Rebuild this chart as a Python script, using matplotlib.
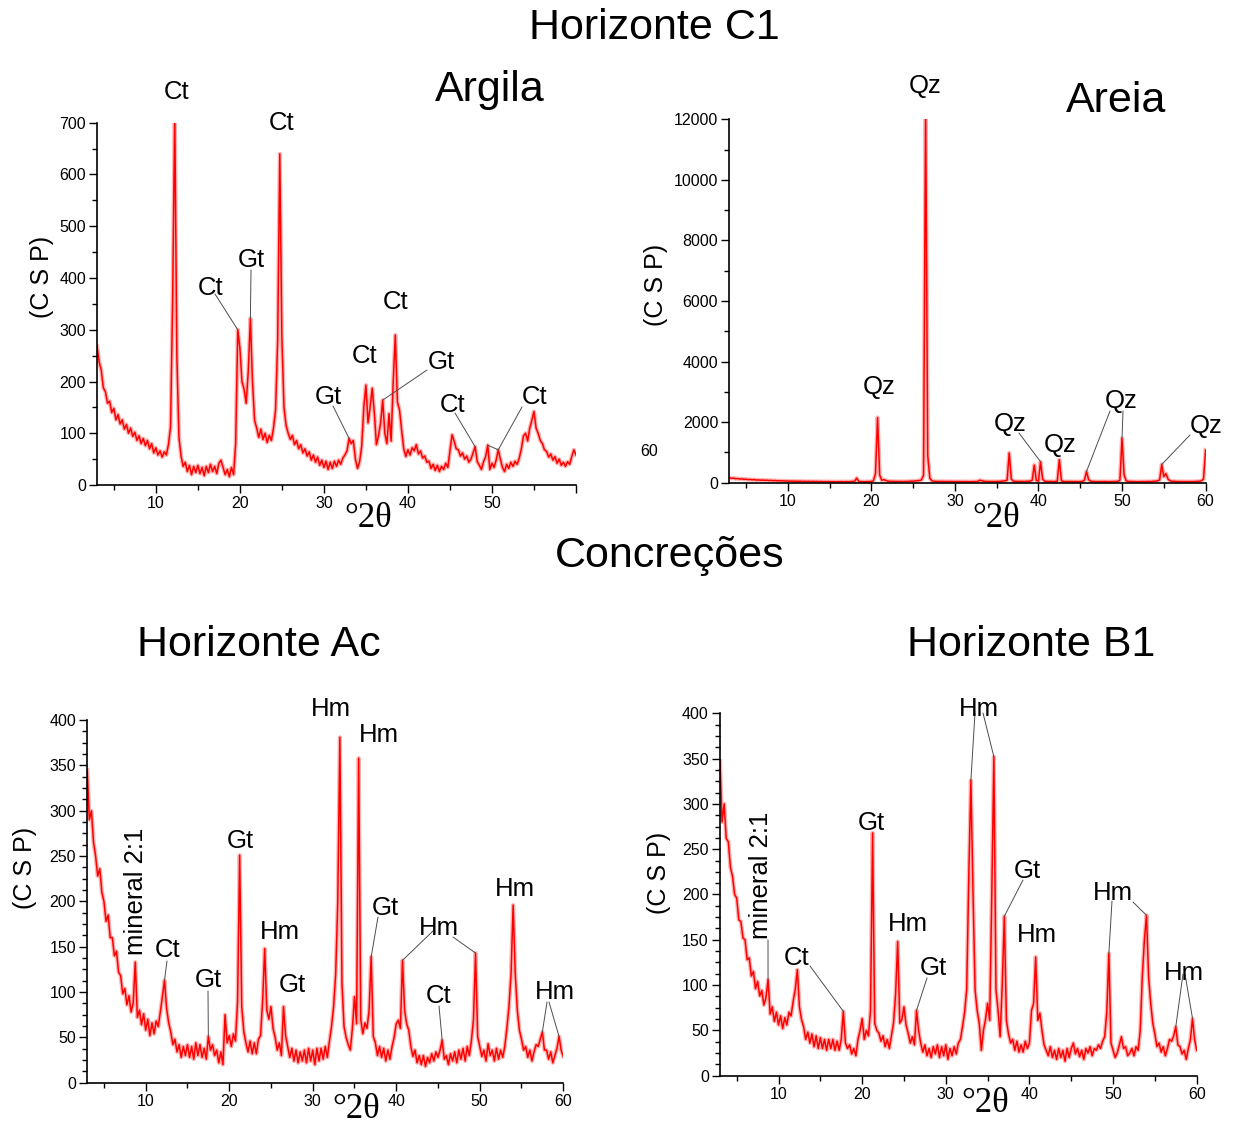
import numpy as np
import matplotlib
matplotlib.use("Agg")
import matplotlib.pyplot as plt
from matplotlib.ticker import MultipleLocator

plt.rcParams['font.family'] = ['Liberation Sans', 'DejaVu Sans']

# scan grid, degrees 2-theta (step 0.25)
two_theta = np.arange(3.0, 60.001, 0.25)

# Horizonte C1 - Argila (counts)
argila = [
    268, 238, 222, 188, 180, 158, 162, 140,
    148, 126, 136, 118, 126, 108, 117, 100,
    110, 94, 102, 86, 95, 80, 90, 76,
    86, 70, 80, 62, 72, 58, 66, 54,
    64, 58, 78, 112, 360, 720, 250, 92,
    56, 36, 44, 26, 38, 20, 36, 24,
    38, 22, 34, 18, 36, 24, 40, 26,
    36, 22, 42, 48, 34, 20, 30, 16,
    34, 20, 80, 300, 265, 200, 185, 158,
    220, 322, 200, 125, 110, 92, 108, 88,
    100, 82, 96, 86, 110, 145, 280, 640,
    285, 150, 115, 100, 88, 96, 78, 86,
    70, 78, 62, 70, 56, 64, 48, 58,
    44, 54, 38, 48, 34, 46, 30, 44,
    32, 46, 36, 48, 40, 52, 58, 66,
    90, 80, 86, 50, 32, 45, 75, 150,
    193, 120, 150, 187, 140, 78, 95, 120,
    164, 100, 80, 138, 85, 200, 290, 160,
    145, 106, 70, 55, 68, 58, 72, 66,
    78, 60, 66, 52, 56, 44, 46, 32,
    40, 28, 38, 26, 36, 30, 42, 34,
    65, 97, 85, 70, 68, 56, 62, 50,
    56, 44, 50, 62, 74, 45, 38, 30,
    45, 55, 77, 30, 42, 34, 48, 68,
    50, 34, 26, 40, 32, 44, 36, 46,
    40, 52, 70, 95, 100, 85, 110, 125,
    142, 110, 100, 86, 80, 68, 65, 54,
    60, 48, 55, 42, 50, 38, 44, 36,
    45, 40, 55, 68, 58,
]

# Horizonte C1 - Areia (counts)
areia = [
    160, 140, 150, 130, 135, 120, 125, 110,
    115, 100, 105, 95, 100, 85, 90, 80,
    85, 75, 80, 70, 75, 65, 70, 60,
    65, 55, 60, 52, 56, 48, 52, 45,
    50, 42, 48, 40, 45, 38, 44, 36,
    42, 35, 40, 34, 38, 32, 38, 30,
    36, 30, 35, 28, 34, 30, 36, 28,
    35, 30, 34, 40, 36, 150, 40, 32,
    35, 30, 36, 32, 40, 60, 300, 2150,
    250, 80, 100, 70, 50, 40, 45, 38,
    42, 36, 40, 35, 40, 38, 45, 50,
    48, 55, 60, 70, 90, 250, 12500, 900,
    150, 60, 45, 40, 42, 38, 40, 36,
    40, 35, 38, 34, 38, 33, 36, 32,
    36, 32, 35, 30, 36, 32, 38, 40,
    80, 60, 45, 38, 40, 36, 38, 35,
    40, 38, 45, 50, 60, 80, 980, 120,
    50, 42, 40, 38, 42, 38, 40, 45,
    50, 80, 580, 70, 50, 690, 120, 45,
    40, 38, 42, 36, 40, 42, 760, 60,
    40, 36, 38, 35, 38, 34, 36, 33,
    36, 40, 80, 370, 100, 45, 38, 36,
    34, 36, 33, 35, 38, 34, 36, 35,
    36, 38, 45, 80, 1470, 250, 60, 40,
    38, 35, 36, 33, 35, 34, 36, 35,
    38, 40, 36, 45, 50, 60, 90, 600,
    200, 300, 120, 60, 45, 40, 38, 36,
    35, 36, 34, 35, 33, 36, 34, 38,
    40, 45, 60, 120, 1080,
]

# Concrecoes - Horizonte Ac (counts)
horiz_ac = [
    345, 290, 300, 265, 250, 228, 236, 210,
    200, 178, 185, 160, 160, 140, 145, 122,
    118, 98, 104, 86, 96, 78, 88, 133,
    72, 80, 64, 76, 58, 70, 52, 66,
    54, 68, 62, 78, 95, 113, 82, 66,
    56, 42, 48, 34, 42, 28, 40, 30,
    42, 28, 40, 26, 44, 30, 42, 28,
    38, 26, 51, 36, 42, 30, 36, 22,
    34, 20, 75, 44, 52, 40, 54, 46,
    90, 251, 84, 56, 44, 34, 46, 32,
    44, 32, 48, 52, 90, 148, 80, 70,
    84, 60, 50, 36, 44, 30, 84, 52,
    40, 28, 38, 24, 36, 22, 34, 24,
    36, 22, 38, 24, 36, 20, 38, 24,
    38, 26, 40, 28, 46, 62, 84, 120,
    200, 381, 110, 62, 50, 42, 36, 60,
    95, 65, 358, 70, 54, 66, 60, 80,
    139, 51, 44, 30, 40, 28, 38, 24,
    36, 26, 40, 50, 65, 69, 60, 135,
    80, 65, 58, 40, 29, 36, 22, 30,
    20, 30, 18, 28, 22, 32, 24, 34,
    28, 36, 47, 26, 30, 20, 32, 24,
    34, 22, 36, 26, 38, 24, 40, 30,
    46, 70, 143, 51, 40, 29, 36, 24,
    43, 30, 36, 24, 38, 26, 36, 28,
    40, 60, 84, 120, 196, 121, 80, 58,
    48, 36, 40, 28, 36, 24, 34, 42,
    40, 48, 56, 36, 36, 26, 34, 22,
    30, 38, 51, 36, 29,
]

# Concrecoes - Horizonte B1 (counts)
horiz_b1 = [
    347, 280, 300, 262, 258, 230, 220, 200,
    196, 172, 170, 152, 150, 128, 130, 110,
    115, 96, 104, 88, 94, 78, 86, 106,
    68, 76, 60, 70, 56, 66, 52, 64,
    56, 70, 66, 82, 95, 117, 76, 62,
    54, 40, 48, 36, 46, 32, 44, 30,
    42, 30, 40, 28, 40, 30, 40, 28,
    38, 28, 40, 71, 36, 30, 34, 24,
    30, 22, 40, 50, 63, 40, 50, 44,
    72, 268, 58, 50, 47, 38, 44, 32,
    40, 30, 44, 58, 90, 148, 58, 62,
    76, 56, 47, 36, 43, 34, 72, 50,
    36, 26, 34, 22, 30, 20, 32, 24,
    34, 20, 32, 22, 34, 18, 30, 22,
    32, 24, 36, 40, 54, 70, 95, 220,
    326, 205, 95, 72, 58, 28, 50, 62,
    80, 61, 200, 352, 95, 72, 43, 100,
    176, 61, 46, 36, 40, 28, 38, 26,
    34, 26, 38, 30, 36, 72, 80, 131,
    61, 69, 50, 34, 28, 22, 32, 20,
    28, 18, 30, 20, 28, 16, 30, 20,
    30, 36, 24, 30, 21, 28, 18, 30,
    25, 32, 22, 30, 28, 34, 30, 38,
    43, 70, 135, 36, 28, 20, 25, 34,
    43, 30, 32, 22, 25, 30, 22, 32,
    28, 50, 110, 150, 177, 109, 80, 58,
    46, 32, 36, 26, 32, 22, 30, 40,
    38, 44, 54, 34, 32, 24, 28, 18,
    30, 40, 63, 40, 28,
]

H = 1124  # figure height in pixels (dpi 100)


def top(ax_y, x0, w=0.3):
    y = np.asarray(ax_y, dtype=float)
    m = np.abs(two_theta - x0) <= w
    i = np.argmax(np.where(m, y, -np.inf))
    return two_theta[i], y[i]


def label(fig, s, px, py, size=18.5, **kw):
    fig.text(px / 1236, 1 - py / H, s, fontsize=size, ha='center', va='center', **kw)


def leader(ax, y, x0, px, py):
    ax.annotate('', xy=top(y, x0), xycoords='data',
                xytext=(px, H - py), textcoords='figure pixels',
                arrowprops=dict(arrowstyle='-', color='0.3', lw=0.7,
                                shrinkA=0, shrinkB=0),
                annotation_clip=False)


def setup(ax, ymax, ymajor, yminor, show60=True):
    # soft halo under the trace, then the trace itself
    ax.plot(two_theta, y_of[ax], color='#ff0000', lw=3.0, alpha=0.3)
    ax.plot(two_theta, y_of[ax], color='#ff0000', lw=1.1)
    ax.set_xlim(3, 60)
    ax.set_ylim(0, ymax)
    for s in ['top', 'right']:
        ax.spines[s].set_visible(False)
    for s in ['left', 'bottom']:
        ax.spines[s].set_linewidth(1.2)
    ax.set_xticks(range(10, 61, 10))
    ax.set_xticklabels([str(v) for v in range(10, 51, 10)] + (['60'] if show60 else ['']))
    ax.xaxis.set_minor_locator(MultipleLocator(5))
    ax.yaxis.set_major_locator(MultipleLocator(ymajor))
    ax.yaxis.set_minor_locator(MultipleLocator(yminor))
    ax.tick_params(which='both', direction='out', width=1, labelsize=11.5, pad=2)
    ax.tick_params(which='major', length=6)
    ax.tick_params(which='minor', length=3.5)


fig = plt.figure(figsize=(12.36, 11.24), dpi=100)
ax1 = fig.add_axes([0.0785, 0.5685, 0.3875, 0.3223])
ax2 = fig.add_axes([0.5900, 0.5706, 0.3854, 0.3233])
ax3 = fig.add_axes([0.0706, 0.0367, 0.3851, 0.3227])
ax4 = fig.add_axes([0.5825, 0.0430, 0.3857, 0.3224])
y_of = {ax1: argila, ax2: areia, ax3: horiz_ac, ax4: horiz_b1}

setup(ax1, 700, 100, 50, show60=False)
setup(ax2, 12000, 2000, 1000)
setup(ax3, 400, 50, 12.5)
setup(ax4, 400, 50, 12.5)

# titles
label(fig, 'Horizonte C1', 654, 28, size=31)
label(fig, 'Argila', 490, 90, size=31)
label(fig, 'Areia', 1116, 101, size=31)
label(fig, 'Concreções', 670, 556, size=31)
label(fig, 'Horizonte Ac', 259, 645, size=31)
label(fig, 'Horizonte B1', 1031, 645, size=31)

# axis labels
for px, py in [(42, 277), (656, 285), (25, 868), (659, 873)]:
    label(fig, '(C S P)', px, py, size=18, rotation=90)
for px, py in [(368, 519), (996, 519), (356, 1109), (985, 1104)]:
    label(fig, '°2θ', px, py, size=25, family=['Liberation Serif', 'DejaVu Serif'])
label(fig, '60', 649, 452, size=11.5)

# Argila peaks
label(fig, 'Ct', 177, 92)
label(fig, 'Ct', 282, 123)
label(fig, 'Ct', 211, 288)
leader(ax1, argila, 19.75, 215, 294)
label(fig, 'Gt', 251, 260)
leader(ax1, argila, 21.25, 251, 270)
label(fig, 'Gt', 328, 397)
leader(ax1, argila, 33.0, 333, 406)
label(fig, 'Ct', 365, 356)
label(fig, 'Gt', 441, 362)
leader(ax1, argila, 37.0, 427, 370)
label(fig, 'Ct', 396, 302)
label(fig, 'Ct', 453, 405)
leader(ax1, argila, 48.0, 455, 413)
label(fig, 'Ct', 535, 397)
leader(ax1, argila, 50.75, 522, 407)
pa, pb = top(argila, 49.5), top(argila, 50.75)
ax1.plot([pa[0], pb[0]], [pa[1], pb[1]], color='0.3', lw=0.7)

# Areia peaks
label(fig, 'Qz', 925, 86)
label(fig, 'Qz', 879, 387)
label(fig, 'Qz', 1010, 424)
leader(ax2, areia, 40.25, 1019, 433)
label(fig, 'Qz', 1060, 445)
label(fig, 'Qz', 1121, 401)
leader(ax2, areia, 45.75, 1110, 411)
leader(ax2, areia, 50.0, 1123, 411)
label(fig, 'Qz', 1206, 426)
leader(ax2, areia, 54.75, 1190, 435)

# Horizonte Ac peaks
label(fig, 'mineral 2:1', 136, 891, rotation=90)
label(fig, 'Ct', 168, 950)
leader(ax3, horiz_ac, 12.25, 167, 961)
label(fig, 'Gt', 208, 980)
leader(ax3, horiz_ac, 17.5, 208, 991)
label(fig, 'Gt', 240, 841)
label(fig, 'Hm', 280, 932)
label(fig, 'Gt', 292, 985)
label(fig, 'Hm', 331, 709)
label(fig, 'Hm', 379, 735)
label(fig, 'Gt', 385, 908)
leader(ax3, horiz_ac, 37.0, 378, 917)
label(fig, 'Hm', 439, 928)
leader(ax3, horiz_ac, 40.75, 434, 930)
leader(ax3, horiz_ac, 49.5, 453, 937)
label(fig, 'Ct', 439, 996)
leader(ax3, horiz_ac, 45.5, 439, 1006)
label(fig, 'Hm', 515, 889)
label(fig, 'Hm', 555, 992)
leader(ax3, horiz_ac, 57.5, 547, 1002)
leader(ax3, horiz_ac, 59.5, 549, 1002)

# Horizonte B1 peaks
label(fig, 'mineral 2:1', 761, 875, rotation=90)
leader(ax4, horiz_b1, 8.75, 768, 940)
label(fig, 'Ct', 797, 958)
leader(ax4, horiz_b1, 17.75, 810, 966)
label(fig, 'Gt', 871, 823)
label(fig, 'Hm', 908, 924)
label(fig, 'Gt', 933, 968)
leader(ax4, horiz_b1, 26.5, 927, 978)
label(fig, 'Hm', 979, 709)
leader(ax4, horiz_b1, 33.0, 975, 713)
leader(ax4, horiz_b1, 35.75, 983, 713)
label(fig, 'Gt', 1027, 871)
leader(ax4, horiz_b1, 37.0, 1023, 880)
label(fig, 'Hm', 1037, 935)
label(fig, 'Hm', 1113, 893)
leader(ax4, horiz_b1, 49.5, 1112, 901)
leader(ax4, horiz_b1, 54.0, 1133, 902)
label(fig, 'Hm', 1184, 973)
leader(ax4, horiz_b1, 57.5, 1183, 974)
leader(ax4, horiz_b1, 59.5, 1185, 974)

fig.savefig('out.png', dpi=100)
plt.close(fig)
